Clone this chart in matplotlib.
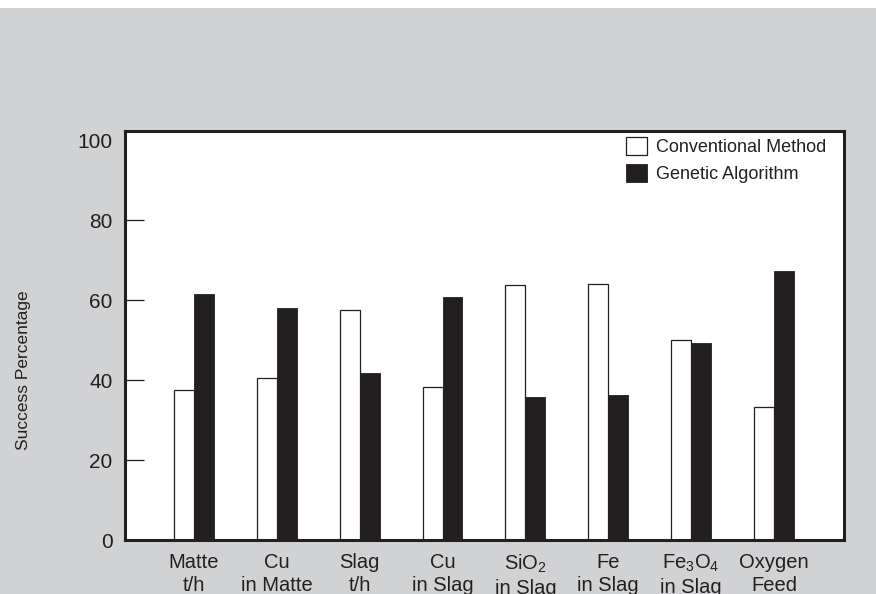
import matplotlib
matplotlib.use("Agg")
import matplotlib.pyplot as plt
import numpy as np
from matplotlib.patches import Rectangle

plt.rcParams["font.family"] = ["Liberation Sans", "DejaVu Sans"]
plt.rcParams["mathtext.fontset"] = "custom"
plt.rcParams["mathtext.rm"] = "Liberation Sans"
plt.rcParams["mathtext.it"] = "Liberation Sans"
plt.rcParams["mathtext.bf"] = "Liberation Sans"

categories = [
    "Matte\nt/h",
    "Cu\nin Matte",
    "Slag\nt/h",
    "Cu\nin Slag",
    "SiO$_2$\nin Slag",
    "Fe\nin Slag",
    "Fe$_3$O$_4$\nin Slag",
    "Oxygen\nFeed",
]
conventional = [37.6, 40.5, 57.5, 38.2, 63.8, 64.0, 49.9, 33.3]
genetic = [61.6, 58.0, 41.8, 60.8, 35.8, 36.2, 49.3, 67.3]
yticks = [0, 20, 40, 60, 80, 100]

BG = "#d1d2d4"
DARK = "#231f20"

fig = plt.figure(figsize=(8.76, 5.94), dpi=100, facecolor=BG)
# thin white strip along the top edge
fig.patches.append(
    Rectangle((0, 1 - 8 / 594), 1, 8 / 594, transform=fig.transFigure,
              facecolor="white", edgecolor="none", zorder=0)
)
ax = fig.add_axes([0.1427, 0.0909, 0.821, 0.6886])

x = np.arange(len(categories))
w = 0.241
ax.bar(x - w / 2, conventional, w, facecolor="white", edgecolor=DARK,
       linewidth=0.9, label="Conventional Method")
ax.bar(x + w / 2, genetic, w, facecolor=DARK, edgecolor=DARK,
       linewidth=0.6, label="Genetic Algorithm")

ax.set_xlim(-0.832, 7.848)
ax.set_ylim(0, 102.3)

for s in ax.spines.values():
    s.set_linewidth(2.2)
    s.set_color(DARK)

ax.set_yticks(yticks)
ax.tick_params(axis="y", direction="in", length=14, width=0.9, color=DARK,
               pad=9, labelsize=15, labelcolor=DARK)
ticks = ax.yaxis.get_major_ticks()
ticks[0].tick1line.set_visible(False)
ticks[-1].tick1line.set_visible(False)

ax.set_xticks(x)
ax.set_xticklabels(categories, linespacing=1.3)
ax.tick_params(axis="x", length=0, pad=9, labelsize=14.5, labelcolor=DARK)

fig.text(0.027, 0.377, "Success Percentage", rotation=90, ha="center",
         va="center", fontsize=12.5, color=DARK)

leg = ax.legend(loc="upper left", bbox_to_anchor=(0.6965, 0.985), frameon=False,
                fontsize=13, handlelength=1.15, handleheight=1.15,
                handletextpad=0.5, labelspacing=0.45, borderpad=0, borderaxespad=0)
for t in leg.get_texts():
    t.set_color(DARK)

fig.savefig("out.png", dpi=100, facecolor=BG)
